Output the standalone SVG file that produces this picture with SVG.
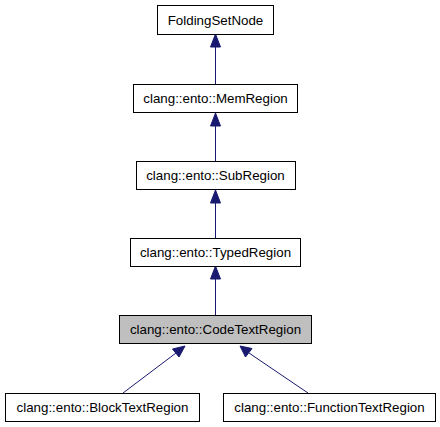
<svg xmlns="http://www.w3.org/2000/svg" width="440" height="427" viewBox="0 0 440 427">
<style>
.box{fill:#fff;stroke:#000;stroke-width:1}
.cur{fill:#bfbfbf;stroke:#000;stroke-width:1}
text{font-family:"Liberation Sans",Arial,sans-serif;font-size:13.33px;text-anchor:middle;fill:#000}
.edge{stroke:#191970;stroke-width:1;fill:none}
.head{fill:#191970;stroke:#191970;stroke-width:1}
</style>
<rect width="440" height="427" fill="#fff"/>
<g id="edges">
<path class="edge" d="M215.5,84V46"/>
<polygon class="head" points="210.5,47 215.5,34 220.5,47"/>
<path class="edge" d="M215.5,161V125"/>
<polygon class="head" points="210.5,126 215.5,113 220.5,126"/>
<path class="edge" d="M215.5,238V203"/>
<polygon class="head" points="210.5,203 215.5,190 220.5,203"/>
<path class="edge" d="M215.5,315V279"/>
<polygon class="head" points="210.5,279 215.5,266 220.5,279"/>
<path class="edge" d="M123,393L176,353"/>
<polygon class="head" points="172.5,349 185,346 179,357"/>
<path class="edge" d="M308,393L249,353"/>
<polygon class="head" points="245.5,357 240,346 252,348.5"/>
</g>
<g id="FoldingSetNode"><rect class="box" x="157.5" y="5.5" width="116" height="29"/><text x="215.5" y="24.5">FoldingSetNode</text></g>
<g id="MemRegion"><rect class="box" x="133.5" y="84.5" width="164" height="28"/><text x="215.5" y="103">clang::ento::MemRegion</text></g>
<g id="SubRegion"><rect class="box" x="136.5" y="161.5" width="159" height="28"/><text x="215.5" y="180">clang::ento::SubRegion</text></g>
<g id="TypedRegion"><rect class="box" x="130.5" y="238.5" width="170" height="28"/><text x="215.5" y="257">clang::ento::TypedRegion</text></g>
<g id="CodeTextRegion"><rect class="cur" x="119.5" y="315.5" width="192" height="28"/><text x="215.5" y="334">clang::ento::CodeTextRegion</text></g>
<g id="BlockTextRegion"><rect class="box" x="5.5" y="393.5" width="194" height="28"/><text x="102.5" y="412">clang::ento::BlockTextRegion</text></g>
<g id="FunctionTextRegion"><rect class="box" x="223.5" y="393.5" width="212" height="28"/><text x="329.5" y="412">clang::ento::FunctionTextRegion</text></g>
</svg>
